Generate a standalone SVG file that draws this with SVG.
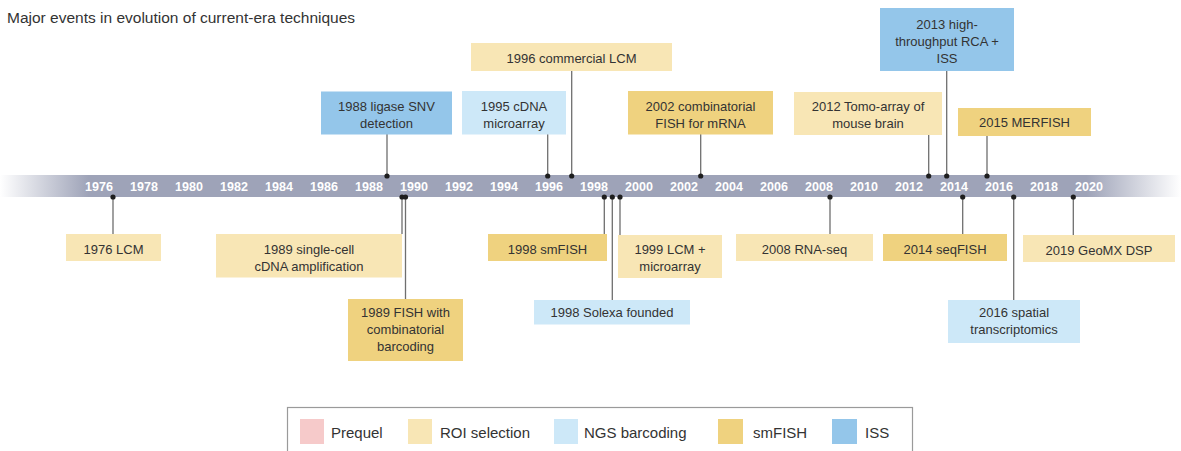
<svg xmlns="http://www.w3.org/2000/svg" width="1181" height="451" viewBox="0 0 1181 451">
<style>
text{font-family:"Liberation Sans",Arial,sans-serif;fill:#333}
.t{font-size:13px;text-anchor:middle}
.yr{font-size:12.5px;font-weight:bold;fill:#fff;text-anchor:middle}
.lg{font-size:15px}
.roi{fill:#f8e6b5}
.sm{fill:#efd27f}
.ngs{fill:#cde8f8}
.iss{fill:#94c6ea}
.pre{fill:#f6caca}
.c{stroke:#6f6f6f;stroke-width:1.3;fill:none}
.d{fill:#1e1e1e}
</style>
<defs>
<linearGradient id="bar" x1="0" y1="0" x2="1181" y2="0" gradientUnits="userSpaceOnUse">
<stop offset="0" stop-color="#9ea3b8" stop-opacity="0"/>
<stop offset="0.075" stop-color="#9ea3b8"/>
<stop offset="0.92" stop-color="#9ea3b8"/>
<stop offset="1" stop-color="#9ea3b8" stop-opacity="0"/>
</linearGradient>
</defs>
<rect width="1181" height="451" fill="#fff"/>
<text x="7" y="23" style="font-size:15.5px">Major events in evolution of current-era techniques</text>

<g id="timeline">
<rect x="0" y="175" width="1181" height="22" fill="url(#bar)"/>
<text class="yr" x="99" y="191">1976</text>
<text class="yr" x="144" y="191">1978</text>
<text class="yr" x="189" y="191">1980</text>
<text class="yr" x="234" y="191">1982</text>
<text class="yr" x="279" y="191">1984</text>
<text class="yr" x="324" y="191">1986</text>
<text class="yr" x="369" y="191">1988</text>
<text class="yr" x="414" y="191">1990</text>
<text class="yr" x="459" y="191">1992</text>
<text class="yr" x="504" y="191">1994</text>
<text class="yr" x="549" y="191">1996</text>
<text class="yr" x="594" y="191">1998</text>
<text class="yr" x="639" y="191">2000</text>
<text class="yr" x="684" y="191">2002</text>
<text class="yr" x="729" y="191">2004</text>
<text class="yr" x="774" y="191">2006</text>
<text class="yr" x="819" y="191">2008</text>
<text class="yr" x="864" y="191">2010</text>
<text class="yr" x="909" y="191">2012</text>
<text class="yr" x="954" y="191">2014</text>
<text class="yr" x="999" y="191">2016</text>
<text class="yr" x="1044" y="191">2018</text>
<text class="yr" x="1089" y="191">2020</text>
</g>

<g id="connectors">
<path class="c" d="M387 134V176M547.7 134V176M571.7 71V176M700.7 134V176M928.7 135V176M946.7 71V176M987 136V176"/>
<path class="c" d="M113 197V234M402 197V234M405.5 197V299M604.3 197V234M612.3 197V300M620 197V235M830 197V234M962.7 197V234M1013.7 197V300M1073.3 197V235"/>
<g class="d">
<circle cx="387" cy="176" r="2.6"/><circle cx="547.7" cy="176" r="2.6"/><circle cx="571.7" cy="176" r="2.6"/><circle cx="700.7" cy="176" r="2.6"/><circle cx="928.7" cy="176" r="2.6"/><circle cx="946.7" cy="176" r="2.6"/><circle cx="987" cy="176" r="2.6"/>
<circle cx="113" cy="197" r="2.6"/><circle cx="402" cy="197" r="2.6"/><circle cx="405.5" cy="197" r="2.6"/><circle cx="604.3" cy="197" r="2.6"/><circle cx="612.3" cy="197" r="2.6"/><circle cx="620" cy="197" r="2.6"/><circle cx="830" cy="197" r="2.6"/><circle cx="962.7" cy="197" r="2.6"/><circle cx="1013.7" cy="197" r="2.6"/><circle cx="1073.3" cy="197" r="2.6"/>
</g>
</g>

<g id="e1988-ligase"><rect class="iss" x="321" y="91.5" width="131" height="43"/><text class="t" x="386.5" y="111">1988 ligase SNV</text><text class="t" x="386.5" y="127.7">detection</text></g>
<g id="e1995-cdna"><rect class="ngs" x="462" y="91" width="104" height="43.5"/><text class="t" x="514" y="111">1995 cDNA</text><text class="t" x="514" y="127.7">microarray</text></g>
<g id="e1996-lcm"><rect class="roi" x="471" y="43" width="201" height="28"/><text class="t" x="571.5" y="62.5">1996 commercial LCM</text></g>
<g id="e2002-fish"><rect class="sm" x="628" y="91" width="145" height="43.5"/><text class="t" x="700.5" y="111">2002 combinatorial</text><text class="t" x="700.5" y="127.7">FISH for mRNA</text></g>
<g id="e2012-tomo"><rect class="roi" x="794" y="92" width="148" height="43"/><text class="t" x="868" y="111">2012 Tomo-array of</text><text class="t" x="868" y="127.7">mouse brain</text></g>
<g id="e2013-rca"><rect class="iss" x="880" y="8" width="134" height="63"/><text class="t" x="947" y="29.3">2013 high-</text><text class="t" x="947" y="45.7">throughput RCA +</text><text class="t" x="947" y="62.5">ISS</text></g>
<g id="e2015-merfish"><rect class="sm" x="958" y="108" width="133" height="28"/><text class="t" x="1024.5" y="127.3">2015 MERFISH</text></g>

<g id="e1976-lcm"><rect class="roi" x="66" y="234" width="95" height="27"/><text class="t" x="113.5" y="254">1976 LCM</text></g>
<g id="e1989-cdna"><rect class="roi" x="216" y="234" width="186" height="43.5"/><text class="t" x="309" y="254">1989 single-cell</text><text class="t" x="309" y="270.7">cDNA amplification</text></g>
<g id="e1989-fish"><rect class="sm" x="348" y="299" width="115" height="62"/><text class="t" x="405.5" y="317.3">1989 FISH with</text><text class="t" x="405.5" y="334">combinatorial</text><text class="t" x="405.5" y="350.5">barcoding</text></g>
<g id="e1998-smfish"><rect class="sm" x="488" y="234" width="119" height="27"/><text class="t" x="547.5" y="254">1998 smFISH</text></g>
<g id="e1998-solexa"><rect class="ngs" x="534" y="300" width="156" height="24.5"/><text class="t" x="612" y="317.3">1998 Solexa founded</text></g>
<g id="e1999-lcm"><rect class="roi" x="618" y="235" width="104" height="43"/><text class="t" x="670" y="254">1999 LCM +</text><text class="t" x="670" y="270.7">microarray</text></g>
<g id="e2008-rnaseq"><rect class="roi" x="736" y="234" width="137" height="27"/><text class="t" x="804.5" y="254">2008 RNA-seq</text></g>
<g id="e2014-seqfish"><rect class="sm" x="883" y="234" width="124" height="27"/><text class="t" x="945" y="254">2014 seqFISH</text></g>
<g id="e2019-geomx"><rect class="roi" x="1023" y="235" width="152" height="27"/><text class="t" x="1099" y="254.5">2019 GeoMX DSP</text></g>
<g id="e2016-st"><rect class="ngs" x="948" y="300" width="132" height="43"/><text class="t" x="1014" y="317.3">2016 spatial</text><text class="t" x="1014" y="334">transcriptomics</text></g>

<g id="legend">
<rect x="287.5" y="407.5" width="625" height="60" fill="#fff" stroke="#9a9a9a" stroke-width="1.2"/>
<rect class="pre" x="300" y="419" width="24" height="25"/><text class="lg" x="331" y="437.5">Prequel</text>
<rect class="roi" x="408" y="419" width="24" height="25"/><text class="lg" x="440" y="437.5">ROI selection</text>
<rect class="ngs" x="554" y="419" width="24" height="25"/><text class="lg" x="584" y="437.5">NGS barcoding</text>
<rect class="sm" x="718" y="419" width="25" height="25"/><text class="lg" x="753" y="437.5">smFISH</text>
<rect class="iss" x="832" y="419" width="25" height="25"/><text class="lg" x="865" y="437.5">ISS</text>
</g>
</svg>
